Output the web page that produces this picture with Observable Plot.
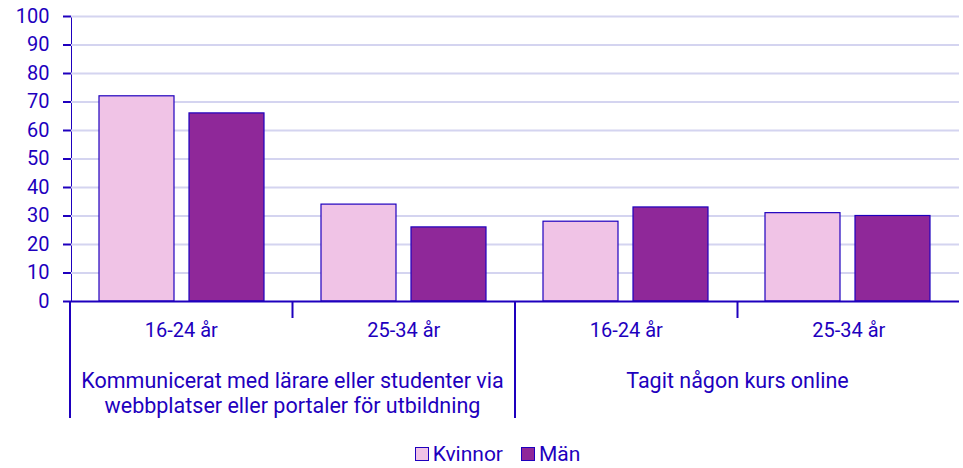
<!DOCTYPE html>
<html><head><meta charset="utf-8">
<script src="https://cdn.jsdelivr.net/npm/d3@7"></script>
<script src="https://cdn.jsdelivr.net/npm/@observablehq/plot@0.6"></script>
<style>
body{margin:0;background:#fff;font-family:Roboto,sans-serif;color:#1e00be}
#legend{display:flex;justify-content:center;align-items:center;font-size:21px;line-height:24px;margin-top:12px;padding-left:32px}
#legend .item{display:flex;align-items:center;margin:0 9px}
#legend .sw{width:14px;height:14px;border:1.5px solid #1e00be;margin-right:4px;box-sizing:border-box}
</style></head><body><div id="chart"></div><div id="legend"></div>
<script>
const activities = ["Kommunicerat med lärare eller studenter via webbplatser eller portaler för utbildning", "Tagit någon kurs online"];
const activityLines = [["Kommunicerat med lärare eller studenter via", "webbplatser eller portaler för utbildning"], ["Tagit någon kurs online"]];
const ageGroups = ["16-24 år", "25-34 år"];
const genders = ["Kvinnor", "Män"];
const kvinnor = [72, 34, 28, 31];
const man = [66, 26, 33, 30];
const yTicks = [0, 10, 20, 30, 40, 50, 60, 70, 80, 90, 100];

const INK = "#1e00be", GRID = "#d4d4f0", PINK = "#f0c3e6", PURPLE = "#8f2899";

const groups = [];
activities.forEach((a, i) => ageGroups.forEach(g => groups.push({act: i, age: g, key: i + "|" + g})));
const rows = [];
groups.forEach((g, j) => {
  rows.push({key: g.key, gender: genders[0], value: kvinnor[j]});
  rows.push({key: g.key, gender: genders[1], value: man[j]});
});

const chart = Plot.plot({
  width: 963, height: 430,
  marginTop: 16, marginLeft: 70, marginRight: 3, marginBottom: 129,
  style: {fontFamily: "Roboto, sans-serif", fontSize: "20px", color: INK, background: "white", overflow: "visible"},
  facet: {data: rows, x: "key", marginLeft: 0, marginRight: 0},
  fx: {domain: groups.map(g => g.key), padding: 0, axis: null},
  x: {domain: genders, paddingInner: 15 / 91, paddingOuter: 28 / 91, axis: null},
  y: {domain: [0, 100], ticks: yTicks, line: true, tickSize: 8, tickPadding: 14, label: null},
  color: {domain: genders, range: [PINK, PURPLE]},
  marks: [
    Plot.ruleY(yTicks.slice(1), {stroke: GRID, strokeWidth: 2}),
    Plot.barY(rows, {x: "gender", y: "value", fill: "gender", stroke: INK, strokeWidth: 1.2}),
    Plot.ruleY([0], {stroke: INK, strokeWidth: 2})
  ]
});
document.getElementById("chart").appendChild(chart);

const svg = d3.select(chart);
svg.selectAll('g[aria-label^="y-axis"] line, g[aria-label^="y-axis"] path').attr("stroke-width", 2);

// hierarchical category axis below the plot, positioned with Plot's own scales
const fxs = chart.scale("fx");
const band = d3.scaleBand(fxs.domain, fxs.range).paddingInner(fxs.paddingInner || 0).paddingOuter(fxs.paddingOuter || 0);
const y0 = chart.scale("y").apply(0);
const g = svg.append("g").attr("fill", INK).attr("stroke", "none").attr("font-family", "Roboto, sans-serif");
groups.forEach((grp, i) => {
  const x = band(grp.key);
  g.append("line").attr("x1", x).attr("x2", x).attr("y1", y0).attr("y2", y0 + (i % 2 === 0 ? 117 : 17)).attr("stroke", INK).attr("stroke-width", 2);
  g.append("text").attr("x", x + band.bandwidth() / 2).attr("y", y0 + 31).attr("font-size", 20).attr("text-anchor", "middle").attr("dominant-baseline", "middle").text(grp.age);
});
activities.forEach((a, i) => {
  const k0 = groups.filter(d => d.act === i);
  const cx = (band(k0[0].key) + band(k0[k0.length - 1].key) + band.bandwidth()) / 2;
  activityLines[i].forEach((line, j) => {
    g.append("text").attr("x", cx).attr("y", y0 + 81 + j * 25).attr("font-size", 21.5).attr("text-anchor", "middle").attr("dominant-baseline", "middle").text(line);
  });
});

const legend = d3.select("#legend");
genders.forEach((gd, i) => {
  const it = legend.append("div").attr("class", "item");
  it.append("div").attr("class", "sw").style("background", [PINK, PURPLE][i]);
  it.append("span").text(gd);
});
</script></body></html>
